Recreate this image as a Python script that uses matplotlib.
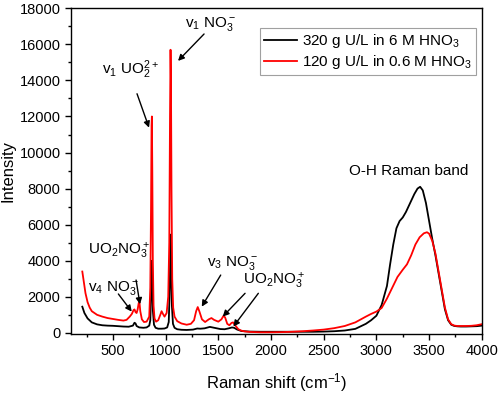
import matplotlib
matplotlib.use("Agg")
import matplotlib.pyplot as plt
from matplotlib.ticker import MultipleLocator

plt.rcParams['font.family'] = ['Liberation Sans', 'DejaVu Sans']
plt.rcParams['mathtext.fontset'] = 'custom'
plt.rcParams['mathtext.rm'] = 'Liberation Sans'
plt.rcParams['mathtext.it'] = 'Liberation Sans:italic'
plt.rcParams['mathtext.bf'] = 'Liberation Sans:bold'

# ---- data: 320 g U/L in 6 M HNO3 (black) ----
x_black = [210, 230, 260, 300, 350, 400, 450, 500, 550, 600, 650, 690, 705, 715, 725, 750,
           790, 820, 845, 855, 862, 867, 871, 875, 880, 890, 905, 930, 960, 990, 1015, 1030,
           1040, 1045, 1049, 1053, 1060, 1070, 1085, 1110, 1150, 1200, 1260, 1300, 1330, 1370,
           1420, 1470, 1520, 1560, 1600, 1630, 1650, 1680, 1720, 1800, 1900, 2000, 2200, 2400,
           2500, 2600, 2700, 2800, 2900, 2950, 3000, 3050, 3100, 3130, 3160, 3190, 3220, 3250,
           3280, 3320, 3360, 3390, 3415, 3440, 3470, 3500, 3530, 3560, 3590, 3620, 3650, 3680,
           3710, 3740, 3770, 3800, 3850, 3900, 3950, 4000]
y_black = [1450, 1100, 800, 580, 470, 420, 400, 390, 370, 350, 340, 400, 560, 520, 380, 300,
           280, 300, 400, 700, 2000, 3800, 4000, 2800, 1200, 450, 280, 230, 230, 240, 300, 600,
           2500, 5000, 5450, 4200, 1500, 500, 280, 200, 170, 160, 180, 240, 230, 250,
           330, 270, 210, 200, 250, 300, 280, 180, 100, 70, 60, 60, 60, 60,
           70, 90, 130, 220, 500, 700, 950, 1550, 2600, 3800, 4900, 5800, 6200, 6400,
           6700, 7200, 7700, 8000, 8100, 7900, 7200, 6200, 5200, 4300, 3300, 2300, 1300, 700,
           450, 380, 360, 350, 350, 360, 370, 400]

# ---- data: 120 g U/L in 0.6 M HNO3 (red) ----
x_red = [210, 220, 240, 260, 280, 300, 350, 400, 450, 500, 550, 600, 630, 660, 680, 695, 705,
         715, 725, 735, 745, 752, 760, 775, 795, 820, 845, 855, 862, 867, 870, 874, 879, 886,
         895, 910, 930, 950, 962, 975, 990, 1010, 1025, 1035, 1042, 1047, 1051, 1056, 1063,
         1072, 1085, 1110, 1150, 1200, 1240, 1270, 1290, 1305, 1320, 1345, 1375, 1410, 1435,
         1460, 1500, 1530, 1550, 1565, 1585, 1605, 1625, 1640, 1660, 1690, 1720, 1750, 1800,
         1900, 2000, 2100, 2200, 2300, 2400, 2500, 2600, 2700, 2800, 2900, 2950, 3000, 3050,
         3100, 3150, 3200, 3250, 3290, 3330, 3370, 3410, 3450, 3480, 3500, 3530, 3560, 3590,
         3620, 3650, 3680, 3710, 3740, 3770, 3800, 3850, 3900, 3950, 4000]
y_red = [3400, 3000, 2200, 1700, 1400, 1200, 1000, 900, 820, 770, 720, 680, 720, 900, 1050,
         1250, 1300, 1150, 1100, 1300, 1650, 1700, 1200, 750, 600, 620, 900, 2500, 7000, 11500,
         12000, 9000, 4000, 1500, 800, 620, 700, 1000, 1200, 1050, 900, 1100, 2000, 5000,
         12000, 15700, 14000, 8000, 3000, 1400, 900, 650, 520, 450, 500, 700, 1200, 1430,
         1200, 750, 600, 750, 820, 720, 620, 750, 950, 850, 500, 420, 550, 580, 420, 200,
         120, 80, 50, 30, 30, 40, 60, 90, 130, 180, 260, 380, 580, 900, 1050, 1180, 1380,
         1900, 2500, 3100, 3500, 3800, 4300, 4900, 5300, 5520, 5580, 5500, 5100, 4400, 3400,
         2400, 1400, 750, 480, 400, 380, 380, 380, 390, 420, 480]

legend_labels = ['320 g U/L in 6 M HNO$_3$', '120 g U/L in 0.6 M HNO$_3$']

# annotation texts: (text, x, y baseline, ha)
labels = [
    (r'v$_1$ NO$_3^-$', 1186, 16960, 'left'),
    (r'v$_1$ UO$_2^{2+}$', 397, 14380, 'left'),
    (r'UO$_2$NO$_3^+$', 264, 4348, 'left'),
    (r'v$_4$ NO$_3^-$', 264, 2337, 'left'),
    (r'v$_3$ NO$_3^-$', 1390, 3700, 'left'),
    (r'UO$_2$NO$_3^+$', 1732, 2652, 'left'),
    ('O-H Raman band', 3308, 8768, 'center'),
]
# arrows: (tail x, tail y, head x, head y)
arrows = [
    (1365, 16575, 1118, 15083),
    (729, 13260, 843, 11380),
    (720, 2928, 757, 1586),
    (552, 2155, 679, 1177),
    (1523, 3205, 1343, 1453),
    (1754, 2193, 1542, 900),
    (1880, 2193, 1643, 348),
]

fig = plt.figure(figsize=(4.98, 3.93), dpi=100)
ax = fig.add_axes([0.142, 0.1494, 0.8255, 0.8295])

ax.plot(x_black, y_black, color='black', lw=1.3, label=legend_labels[0])
ax.plot(x_red, y_red, color='#ff0000', lw=1.3, label=legend_labels[1])

ax.set_xlim(100, 4000)
ax.set_ylim(-80, 18000)
ax.xaxis.set_major_locator(MultipleLocator(500))
ax.xaxis.set_minor_locator(MultipleLocator(250))
ax.yaxis.set_major_locator(MultipleLocator(2000))
ax.yaxis.set_minor_locator(MultipleLocator(1000))
ax.set_xticks([500, 1000, 1500, 2000, 2500, 3000, 3500, 4000])
ax.tick_params(which='major', direction='out', length=4.3, width=1.0, labelsize=10.5, pad=3)
ax.tick_params(which='minor', direction='out', length=2.3, width=1.0)
for s in ax.spines.values():
    s.set_linewidth(1.0)

ax.set_xlabel('Raman shift (cm$^{-1}$)', fontsize=12)
ax.set_ylabel('Intensity', fontsize=12)
ax.xaxis.set_label_coords(0.5, -0.112)
ax.yaxis.set_label_coords(-0.1355, 0.5)

for t, x, y, ha in labels:
    ax.text(x, y, t, fontsize=11, ha=ha, va='baseline')
for tx, ty, hx, hy in arrows:
    ax.annotate('', xy=(hx, hy), xytext=(tx, ty),
                arrowprops=dict(arrowstyle='-|>', color='black', lw=1.0,
                                mutation_scale=9, shrinkA=0, shrinkB=0))

leg = ax.legend(loc='upper right', bbox_to_anchor=(0.985, 0.9387), borderaxespad=0,
                fontsize=11, fancybox=False, edgecolor='#a0a0a0', framealpha=1,
                handlelength=2.15, handletextpad=0.33, borderpad=0.25, labelspacing=0.2)
leg.get_frame().set_linewidth(0.8)

fig.savefig('out.png', dpi=100)
